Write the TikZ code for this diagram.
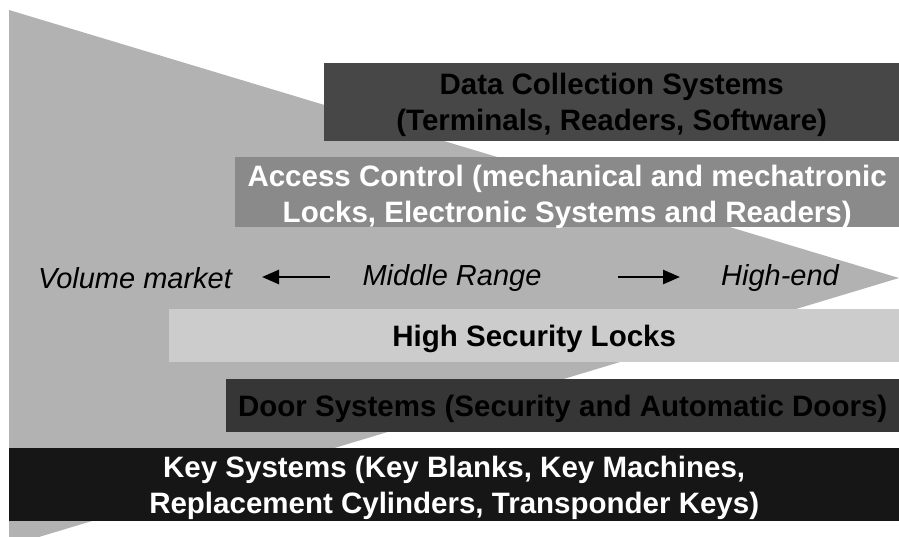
\documentclass[tikz,border=0pt]{standalone}
\usepackage{fontspec}
\setmainfont{Liberation Sans}
\usetikzlibrary{arrows.meta}
\definecolor{wedgegray}{gray}{0.70}
\definecolor{datagray}{gray}{0.28}
\definecolor{accessgray}{gray}{0.54}
\definecolor{lockgray}{gray}{0.80}
\definecolor{doorgray}{gray}{0.21}
\definecolor{keygray}{gray}{0.086}
\tikzset{
  layer/.style={anchor=north west, inner sep=0pt},
  layertext/.style={inner sep=0pt, align=center, yshift=-3pt,
    font=\fontsize{29.5}{36}\selectfont\bfseries},
  pricelabel/.style={font=\fontsize{29}{34}\selectfont\itshape, inner sep=0pt},
  trend/.style={line width=2.6pt, -{Triangle[length=17pt,width=14pt]}}
}
\begin{document}
\begin{tikzpicture}[x=1pt, y=-1pt]
    \useasboundingbox (0,0) rectangle (899,536);
    \clip (0,0) rectangle (899,536);
    \fill[wedgegray] (9,10) -- (899,278) -- (9,546) -- cycle;
    % market segments
    \node[layer, fill=datagray, minimum width=575pt, minimum height=78pt] (data) at (324,63) {};
    \node[layer, fill=accessgray, minimum width=664pt, minimum height=70pt] (access) at (235,157) {};
    \node[layer, fill=lockgray, minimum width=730pt, minimum height=53pt] (locks) at (169,309) {};
    \node[layer, fill=doorgray, minimum width=673pt, minimum height=53pt] (door) at (226,379) {};
    \node[layer, fill=keygray, minimum width=890pt, minimum height=73pt] (keys) at (9,448) {};
    \node[layertext, text=black] (datatext) at (data.center)
        {Data Collection Systems\\(Terminals, Readers, Software)};
    \node[layertext, text=white, yshift=-2pt] (accesstext) at (access.center)
        {Access Control (mechanical and mechatronic\\Locks, Electronic Systems and Readers)};
    \node[layertext, text=black] (lockstext) at (locks.center) {High Security Locks};
    \node[layertext, text=black] (doortext) at (door.center)
        {Door Systems (Security and Automatic Doors)};
    \node[layertext, text=white] (keystext) at (keys.center)
        {Key Systems (Key Blanks, Key Machines,\\Replacement Cylinders, Transponder Keys)};
    % price range
    \node[pricelabel] (volume) at (135,278) {Volume market};
    \node[pricelabel] (middle) at (452,278) {Middle Range};
    \node[pricelabel] (high) at (780,278) {High-end};
    \coordinate (lefttail) at (330,277);
    \coordinate (lefttip) at (262,277);
    \coordinate (righttail) at (618,277);
    \coordinate (righttip) at (680,277);
    \draw[trend] (lefttail) -- (lefttip);
    \draw[trend] (righttail) -- (righttip);
\end{tikzpicture}
\end{document}
